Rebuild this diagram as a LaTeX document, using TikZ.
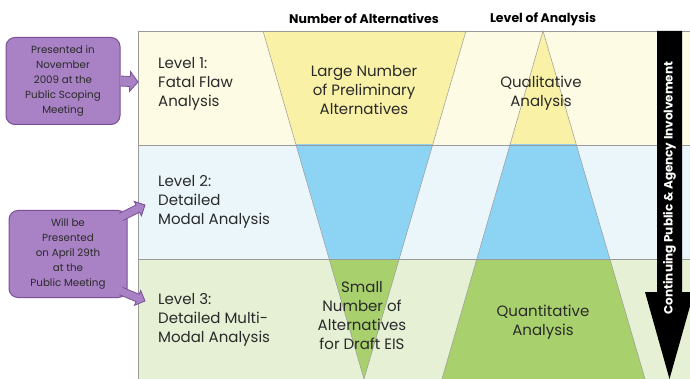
\documentclass[tikz,border=0pt]{standalone}
\usepackage{fontspec}
\setmainfont{Poppins}
\usetikzlibrary{calc}
\definecolor{yband}{HTML}{FDFBE3}
\definecolor{ytri}{HTML}{F9F1A6}
\definecolor{bband}{HTML}{EBF6FB}
\definecolor{btri}{HTML}{8DD4F4}
\definecolor{gband}{HTML}{E5F0D4}
\definecolor{gtri}{HTML}{A8D06D}
\definecolor{purp}{HTML}{A882C4}
\definecolor{purpline}{HTML}{7A4F96}
\definecolor{txt}{HTML}{2A2A2A}
\definecolor{edge}{HTML}{9A9A9A}
\tikzset{
  lvltext/.style={align=left, anchor=west, font=\fontsize{15}{19}\selectfont, text=txt, inner sep=0pt},
  midtext/.style={align=center, font=\fontsize{15}{19}\selectfont, text=txt, inner sep=0pt},
  hdr/.style={font=\fontsize{12.5}{14}\selectfont\bfseries, text=black, inner sep=0pt},
  pbox/.style={draw=purpline, line width=1pt, fill=purp, rounded corners=9pt, align=center,
    font=\fontsize{10.3}{15}\selectfont, text=txt, inner sep=0pt},
  blkarr/.style={draw=purpline, line width=0.8pt, fill=purp, line join=miter},
  edgeline/.style={draw=edge, line width=0.5pt}
}
\newcommand\blkarrow[5]{% from #1 to #2, shaft half width #3, head half width #4, head length #5
  \coordinate (#1-#2-h) at ($(#2)!#5!(#1)$);
  \filldraw[blkarr] ($(#1)!#3!90:(#2)$) -- ($(#1-#2-h)!#3!90:(#2)$) -- ($(#1-#2-h)!#4!90:(#2)$)
    -- (#2) -- ($(#1-#2-h)!#4!-90:(#2)$) -- ($(#1-#2-h)!#3!-90:(#2)$) -- ($(#1)!#3!-90:(#2)$);
}
\begin{document}
\begin{tikzpicture}[x=1pt,y=-1pt]
\useasboundingbox (0,0) rectangle (690,379);
\clip (0,0) rectangle (690,379);
\fill[white] (0,0) rectangle (690,379);
% bands
\begin{scope}
\clip (138,31) rectangle (700,145);
\fill[yband] (138,31) rectangle (700,145);
\fill[ytri] (263,31) -- (466,31) -- (364,379) -- cycle;
\fill[ytri] (543,31) -- (442,379) -- (645,379) -- cycle;
\end{scope}
\begin{scope}
\clip (138,145) rectangle (700,259);
\fill[bband] (138,145) rectangle (700,259);
\fill[btri] (263,31) -- (466,31) -- (364,379) -- cycle;
\fill[btri] (543,31) -- (442,379) -- (645,379) -- cycle;
\end{scope}
\begin{scope}
\clip (138,259) rectangle (700,390);
\fill[gband] (138,259) rectangle (700,390);
\fill[gtri] (263,31) -- (466,31) -- (364,379) -- cycle;
\fill[gtri] (543,31) -- (442,379) -- (645,379) -- cycle;
\end{scope}
% edges
\draw[edgeline] (263,31) -- (364,379) -- (466,31);
\draw[edgeline] (442,379) -- (543,31) -- (645,379);
\draw[edgeline] (138,145) -- (700,145);
\draw[edgeline] (138,259) -- (700,259);
\draw[edgeline] (700,31) -- (138,31) -- (138,390);
% black arrow
\fill[black] (657,31) -- (682,31) -- (682,292) -- (694,292) -- (669.5,379) -- (645,292) -- (657,292) -- cycle;
\node[rotate=90, font=\fontsize{12}{14}\selectfont\bfseries, text=white, inner sep=0pt] (inv) at (669.5,188) {Continuing Public \& Agency Involvement};
% headers
\node[hdr] (hnum) at (364,19) {Number of Alternatives};
\node[hdr] (hlev) at (543,19) {Level of Analysis};
% level text
\node[lvltext] (l1) at (158,84) {Level 1:\\Fatal Flaw\\Analysis};
\node[lvltext] (l2) at (158,202) {Level 2:\\Detailed\\Modal Analysis};
\node[lvltext] (l3) at (158,320) {Level 3:\\Detailed Multi-\\Modal Analysis};
% middle texts
\node[midtext] (large) at (364,90) {Large Number\\of Preliminary\\Alternatives};
\node[midtext] (qual) at (541,93) {Qualitative\\Analysis};
\node[midtext] (small) at (362,316) {Small\\Number of\\Alternatives\\for Draft EIS};
\node[midtext] (quant) at (543,322) {Quantitative\\Analysis};
% purple boxes
\node[pbox, minimum width=114pt, minimum height=87pt] (p1) at (63,81) {Presented in\\November\\2009 at the\\Public Scoping\\Meeting};
\node[pbox, minimum width=118pt, minimum height=87pt] (p2) at (68,254) {Will be\\Presented\\on April 29th\\at the\\Public Meeting};
\coordinate (p1s) at (p1.east);
\coordinate (t1) at (138,82);
\coordinate (p2a) at (121,217);
\coordinate (t2a) at (145,205);
\coordinate (p2b) at (121,291);
\coordinate (t2b) at (145,301);
\blkarrow{p1s}{t1}{5pt}{10pt}{8pt}
\blkarrow{p2a}{t2a}{4pt}{8pt}{8pt}
\blkarrow{p2b}{t2b}{4pt}{8pt}{8pt}
\end{tikzpicture}
\end{document}
